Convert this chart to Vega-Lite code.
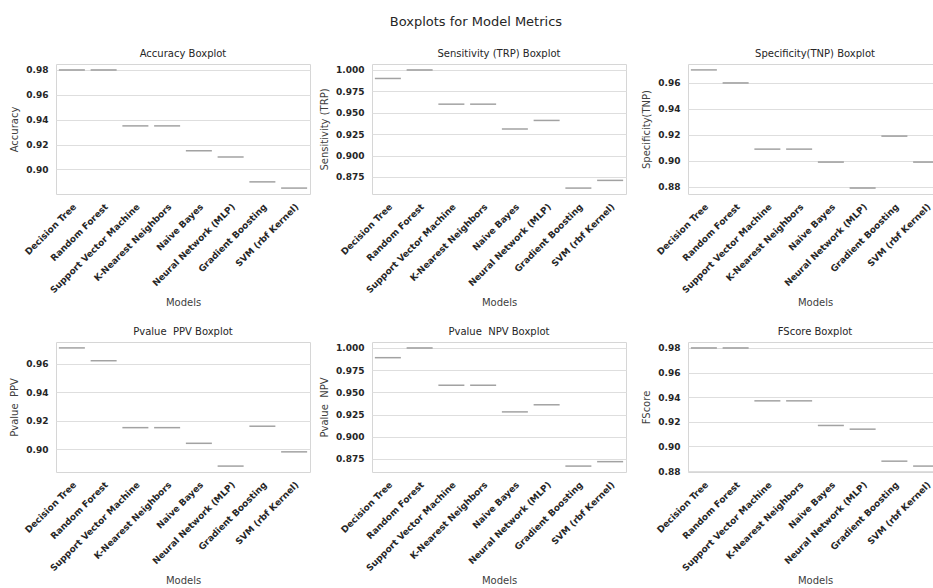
{
  "$schema": "https://vega.github.io/schema/vega-lite/v6.json",
  "title": {"text": "Boxplots for Model Metrics", "fontSize": 13, "font": "DejaVu Sans", "fontWeight": "normal", "color": "#262626", "anchor": "middle", "frame": "bounds", "offset": 20},
  "padding": {"left": 9, "top": 15, "right": 0, "bottom": 0},
  "datasets": {
    "m": [
      {"Model": "Decision Tree", "Accuracy": 0.98, "Sensitivity": 0.99, "Specificity": 0.97, "PPV": 0.971, "NPV": 0.989, "FScore": 0.98},
      {"Model": "Random Forest", "Accuracy": 0.98, "Sensitivity": 1.0, "Specificity": 0.96, "PPV": 0.962, "NPV": 1.0, "FScore": 0.98},
      {"Model": "Support Vector Machine", "Accuracy": 0.935, "Sensitivity": 0.96, "Specificity": 0.909, "PPV": 0.915, "NPV": 0.958, "FScore": 0.937},
      {"Model": "K-Nearest Neighbors", "Accuracy": 0.935, "Sensitivity": 0.96, "Specificity": 0.909, "PPV": 0.915, "NPV": 0.958, "FScore": 0.937},
      {"Model": "Naive Bayes", "Accuracy": 0.915, "Sensitivity": 0.931, "Specificity": 0.899, "PPV": 0.904, "NPV": 0.928, "FScore": 0.917},
      {"Model": "Neural Network (MLP)", "Accuracy": 0.91, "Sensitivity": 0.941, "Specificity": 0.879, "PPV": 0.888, "NPV": 0.936, "FScore": 0.914},
      {"Model": "Gradient Boosting", "Accuracy": 0.89, "Sensitivity": 0.862, "Specificity": 0.919, "PPV": 0.916, "NPV": 0.867, "FScore": 0.888},
      {"Model": "SVM (rbf Kernel)", "Accuracy": 0.885, "Sensitivity": 0.871, "Specificity": 0.899, "PPV": 0.898, "NPV": 0.872, "FScore": 0.884}
    ]
  },
  "data": {"name": "m"},
  "columns": 3,
  "bounds": "flush",
  "spacing": {"row": 148, "column": 62},
  "concat": [
    {
      "title": "Accuracy Boxplot",
      "width": 254, "height": 130,
      "mark": {"type": "tick", "size": 26, "thickness": 1.5, "color": "#7a7a7a"},
      "encoding": {
        "x": {"field": "Model", "type": "nominal", "sort": null, "title": "Models", "scale": {"type": "band", "paddingInner": 0, "paddingOuter": 0}},
        "y": {"field": "Accuracy", "type": "quantitative", "title": "Accuracy", "scale": {"domain": [0.88025, 0.98475], "nice": false, "zero": false}, "axis": {"values": [0.90, 0.92, 0.94, 0.96, 0.98], "format": ".2f"}}
      }
    },
    {
      "title": "Sensitivity (TRP) Boxplot",
      "width": 254, "height": 130,
      "mark": {"type": "tick", "size": 26, "thickness": 1.5, "color": "#7a7a7a"},
      "encoding": {
        "x": {"field": "Model", "type": "nominal", "sort": null, "title": "Models", "scale": {"type": "band", "paddingInner": 0, "paddingOuter": 0}},
        "y": {"field": "Sensitivity", "type": "quantitative", "title": "Sensitivity (TRP)", "scale": {"domain": [0.8551, 1.0069], "nice": false, "zero": false}, "axis": {"values": [0.875, 0.9, 0.925, 0.95, 0.975, 1.0], "format": ".3f"}}
      }
    },
    {
      "title": "Specificity(TNP) Boxplot",
      "width": 254, "height": 130,
      "mark": {"type": "tick", "size": 26, "thickness": 1.5, "color": "#7a7a7a"},
      "encoding": {
        "x": {"field": "Model", "type": "nominal", "sort": null, "title": "Models", "scale": {"type": "band", "paddingInner": 0, "paddingOuter": 0}},
        "y": {"field": "Specificity", "type": "quantitative", "title": "Specificity(TNP)", "scale": {"domain": [0.87445, 0.97455], "nice": false, "zero": false}, "axis": {"values": [0.88, 0.90, 0.92, 0.94, 0.96], "format": ".2f"}}
      }
    },
    {
      "title": "Pvalue\u00a0 PPV Boxplot",
      "width": 254, "height": 130,
      "mark": {"type": "tick", "size": 26, "thickness": 1.5, "color": "#7a7a7a"},
      "encoding": {
        "x": {"field": "Model", "type": "nominal", "sort": null, "title": "Models", "scale": {"type": "band", "paddingInner": 0, "paddingOuter": 0}},
        "y": {"field": "PPV", "type": "quantitative", "title": "Pvalue\u00a0 PPV", "scale": {"domain": [0.88385, 0.97515], "nice": false, "zero": false}, "axis": {"values": [0.90, 0.92, 0.94, 0.96], "format": ".2f"}}
      }
    },
    {
      "title": "Pvalue\u00a0 NPV Boxplot",
      "width": 254, "height": 130,
      "mark": {"type": "tick", "size": 26, "thickness": 1.5, "color": "#7a7a7a"},
      "encoding": {
        "x": {"field": "Model", "type": "nominal", "sort": null, "title": "Models", "scale": {"type": "band", "paddingInner": 0, "paddingOuter": 0}},
        "y": {"field": "NPV", "type": "quantitative", "title": "Pvalue\u00a0 NPV", "scale": {"domain": [0.86035, 1.00665], "nice": false, "zero": false}, "axis": {"values": [0.875, 0.9, 0.925, 0.95, 0.975, 1.0], "format": ".3f"}}
      }
    },
    {
      "title": "FScore Boxplot",
      "width": 254, "height": 130,
      "mark": {"type": "tick", "size": 26, "thickness": 1.5, "color": "#7a7a7a"},
      "encoding": {
        "x": {"field": "Model", "type": "nominal", "sort": null, "title": "Models", "scale": {"type": "band", "paddingInner": 0, "paddingOuter": 0}},
        "y": {"field": "FScore", "type": "quantitative", "title": "FScore", "scale": {"domain": [0.8792, 0.9848], "nice": false, "zero": false}, "axis": {"values": [0.88, 0.90, 0.92, 0.94, 0.96, 0.98], "format": ".2f"}}
      }
    }
  ],
  "config": {
    "font": "DejaVu Sans",
    "view": {"stroke": "#d6d6d6", "strokeWidth": 1},
    "title": {"font": "DejaVu Sans", "fontSize": 10, "fontWeight": "normal", "color": "#262626", "anchor": "middle", "offset": 5},
    "axis": {"labelFont": "DejaVu Sans", "labelFontWeight": "bold", "labelFontSize": 9, "labelColor": "#262626", "titleFont": "DejaVu Sans", "titleFontWeight": "normal", "titleFontSize": 10, "titleColor": "#404040", "ticks": false, "domain": false, "gridColor": "#dedede", "gridWidth": 1},
    "axisX": {"grid": false, "labelAngle": -45, "labelPadding": 8, "titlePadding": 3},
    "axisY": {"grid": true, "labelPadding": 8, "titlePadding": 6}
  }
}
